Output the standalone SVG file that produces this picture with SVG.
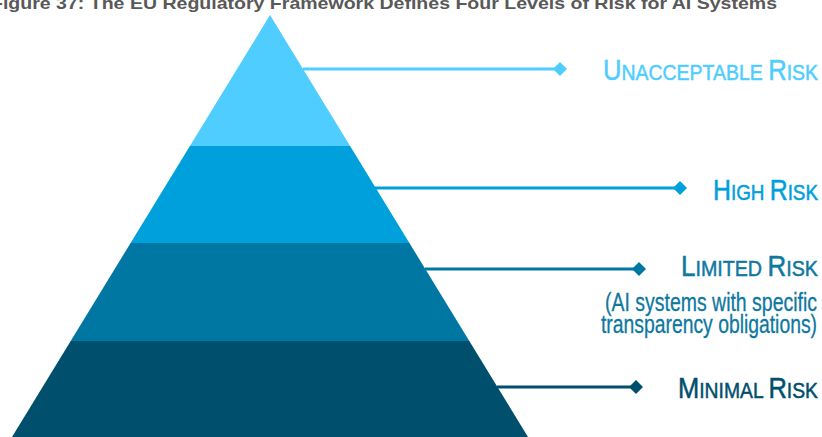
<svg xmlns="http://www.w3.org/2000/svg" width="822" height="437" viewBox="0 0 822 437">
<style>
  .title { font-family: "Liberation Sans", Arial, sans-serif; font-weight: bold; font-size: 17px; fill: #595959; }
  .lbl { font-family: "Liberation Sans", Arial, sans-serif; text-anchor: end; stroke-width: 0.5; }
  .big { font-size: 29px; }
  .sm { font-size: 22px; }
  .sub { font-family: "Liberation Sans", Arial, sans-serif; text-anchor: end; font-size: 25px; fill: #0E789F; stroke: #0E789F; stroke-width: 0.3; }
  .conn { stroke-width: 3; fill: none; }
</style>
<defs>
  <marker id="d1" viewBox="-7 -7 14 14" markerWidth="14" markerHeight="14" markerUnits="userSpaceOnUse" refX="0" refY="0" orient="auto"><path d="M-7 0 L0 -7 L7 0 L0 7 Z" fill="#4FCDFE"/></marker>
  <marker id="d2" viewBox="-7 -7 14 14" markerWidth="14" markerHeight="14" markerUnits="userSpaceOnUse" refX="0" refY="0" orient="auto"><path d="M-7 0 L0 -7 L7 0 L0 7 Z" fill="#00A0DC"/></marker>
  <marker id="d3" viewBox="-7 -7 14 14" markerWidth="14" markerHeight="14" markerUnits="userSpaceOnUse" refX="0" refY="0" orient="auto"><path d="M-7 0 L0 -7 L7 0 L0 7 Z" fill="#0077A3"/></marker>
  <marker id="d4" viewBox="-7 -7 14 14" markerWidth="14" markerHeight="14" markerUnits="userSpaceOnUse" refX="0" refY="0" orient="auto"><path d="M-7 0 L0 -7 L7 0 L0 7 Z" fill="#004F6C"/></marker>
</defs>
<rect width="822" height="437" fill="#FFFFFF"/>
<text class="title" x="-9" y="9" textLength="786" lengthAdjust="spacingAndGlyphs">Figure 37: The EU Regulatory Framework Defines Four Levels of Risk for AI Systems</text>

<g id="connectors">
  <line class="conn" x1="303" y1="69" x2="560" y2="69" stroke="#4FCDFE" marker-end="url(#d1)"/>
  <line class="conn" x1="375" y1="188" x2="680" y2="188" stroke="#00A0DC" marker-end="url(#d2)"/>
  <line class="conn" x1="425" y1="269" x2="639" y2="269" stroke="#0077A3" marker-end="url(#d3)"/>
  <line class="conn" x1="497" y1="387" x2="636" y2="387" stroke="#004F6C" marker-end="url(#d4)"/>
</g>

<g id="unacceptable-risk">
  <polygon points="270,15 350.1,146 189.9,146" fill="#4FCDFE"/>
  <text class="lbl" x="818" y="80" fill="#4FCDFE" stroke="#4FCDFE" textLength="215" lengthAdjust="spacingAndGlyphs"><tspan class="big">U</tspan><tspan class="sm">NACCEPTABLE </tspan><tspan class="big">R</tspan><tspan class="sm">ISK</tspan></text>
</g>

<g id="high-risk">
  <polygon points="189.9,146 350.1,146 409.4,243 130.6,243" fill="#00A0DC"/>
  <text class="lbl" x="818" y="200" fill="#00A0DC" stroke="#00A0DC" textLength="105" lengthAdjust="spacingAndGlyphs"><tspan class="big">H</tspan><tspan class="sm">IGH </tspan><tspan class="big">R</tspan><tspan class="sm">ISK</tspan></text>
</g>

<g id="limited-risk">
  <polygon points="130.6,243 409.4,243 469.3,341 70.7,341" fill="#0077A3"/>
  <text class="lbl" x="818" y="276" fill="#0E789F" stroke="#0E789F" textLength="137" lengthAdjust="spacingAndGlyphs"><tspan class="big">L</tspan><tspan class="sm">IMITED </tspan><tspan class="big">R</tspan><tspan class="sm">ISK</tspan></text>
  <text class="sub" x="817" y="311" textLength="212" lengthAdjust="spacingAndGlyphs">(AI systems with specific</text>
  <text class="sub" x="817" y="333" textLength="216" lengthAdjust="spacingAndGlyphs">transparency obligations)</text>
</g>

<g id="minimal-risk">
  <polygon points="70.7,341 469.3,341 528,437 12,437" fill="#004F6C"/>
  <text class="lbl" x="818" y="398" fill="#004F6C" stroke="#004F6C" textLength="140" lengthAdjust="spacingAndGlyphs"><tspan class="big">M</tspan><tspan class="sm">INIMAL </tspan><tspan class="big">R</tspan><tspan class="sm">ISK</tspan></text>
</g>
</svg>
